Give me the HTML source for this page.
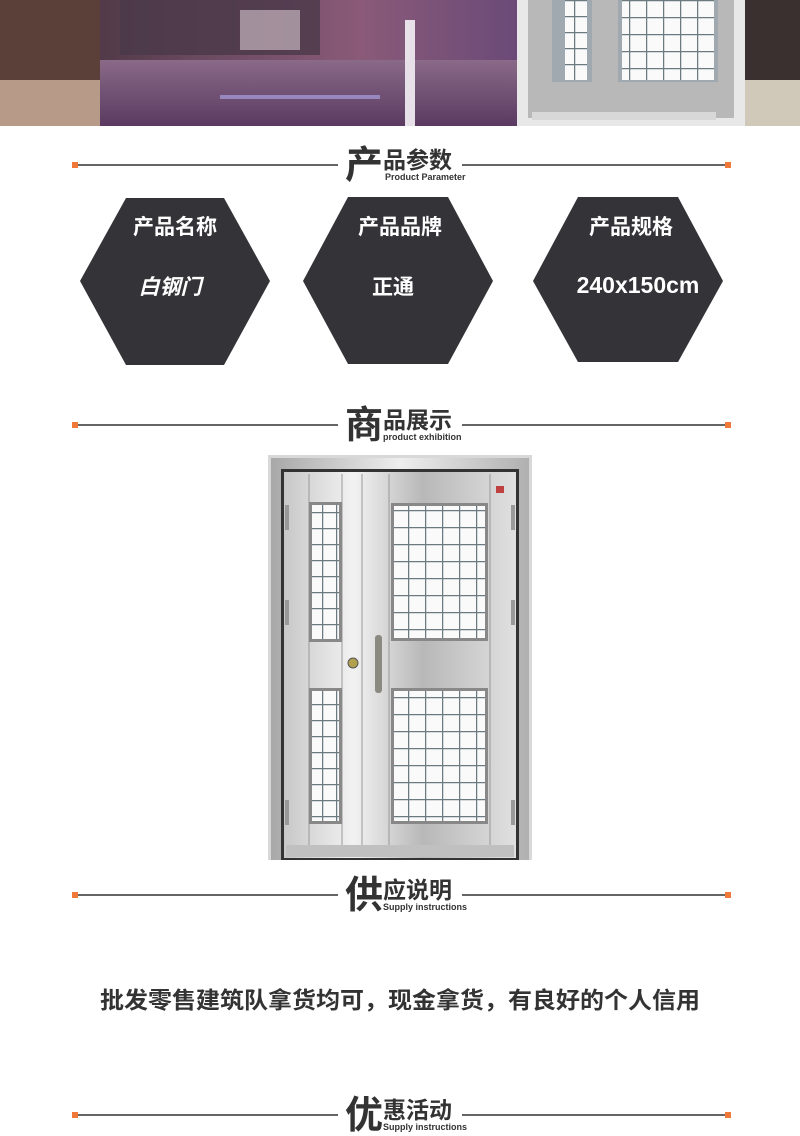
<!DOCTYPE html>
<html><head><meta charset="utf-8"><style>
body{margin:0;width:800px;height:1136px;background:#fff;overflow:hidden;font-family:"Liberation Sans","Noto Sans CJK SC",sans-serif}
svg{display:block}
</style></head><body>
<svg width="800" height="1136" viewBox="0 0 800 1136" xmlns="http://www.w3.org/2000/svg" font-family="Liberation Sans, Noto Sans CJK SC, sans-serif">
<defs>
<linearGradient id="sky" x1="0" y1="0" x2="1" y2="0">
<stop offset="0" stop-color="#3a2a30"/><stop offset="0.25" stop-color="#6a4a60"/><stop offset="0.45" stop-color="#8a5a78"/><stop offset="0.65" stop-color="#6a4a78"/><stop offset="1" stop-color="#3a3040"/>
</linearGradient>
<linearGradient id="water" x1="0" y1="0" x2="0" y2="1">
<stop offset="0" stop-color="#8a6a88"/><stop offset="1" stop-color="#5a3a60"/>
</linearGradient>
<linearGradient id="steel" x1="0" y1="0" x2="1" y2="0">
<stop offset="0" stop-color="#c8c8c8"/><stop offset="0.3" stop-color="#f2f2f2"/><stop offset="0.6" stop-color="#b8b8b8"/><stop offset="1" stop-color="#e0e0e0"/>
</linearGradient>
<linearGradient id="steel2" x1="0" y1="0" x2="1" y2="0">
<stop offset="0" stop-color="#a8a8a8"/><stop offset="0.5" stop-color="#eeeeee"/><stop offset="1" stop-color="#b0b0b0"/>
</linearGradient>
<pattern id="grid" width="17" height="17" patternUnits="userSpaceOnUse">
<rect width="17" height="17" fill="#fafafa"/><path d="M0 0H17M0 0V17" stroke="#6a7a80" stroke-width="2.5" fill="none"/>
</pattern>
<pattern id="gridn" width="14" height="16" patternUnits="userSpaceOnUse">
<rect width="14" height="16" fill="#fafafa"/><path d="M0 0H14M0 0V16" stroke="#6a7a80" stroke-width="2.5" fill="none"/>
</pattern>
</defs>

<!-- banner -->
<rect x="0" y="0" width="800" height="126" fill="url(#sky)"/>
<rect x="100" y="60" width="430" height="66" fill="url(#water)"/>
<rect x="0" y="0" width="100" height="126" fill="#5a4038"/>
<rect x="0" y="80" width="100" height="46" fill="#b89a88"/>
<rect x="120" y="0" width="200" height="55" fill="#4a3848" opacity="0.8"/>
<rect x="240" y="10" width="60" height="40" fill="#d8c8d0" opacity="0.6"/>
<rect x="405" y="20" width="10" height="106" fill="#e8e0e8"/>
<rect x="220" y="95" width="160" height="4" fill="#a8a0e0" opacity="0.7"/>
<rect x="745" y="0" width="55" height="126" fill="#3a3030"/>
<rect x="745" y="80" width="55" height="46" fill="#d0c8b8"/>
<rect x="517" y="0" width="228" height="126" fill="#e8e8e8"/>
<rect x="528" y="0" width="206" height="118" fill="#b8b8b8"/>
<rect x="552" y="0" width="40" height="82" fill="#a0a8b0"/>
<rect x="565" y="0" width="22" height="80" fill="url(#gridn)"/>
<rect x="618" y="0" width="100" height="82" fill="#a0a8b0"/>
<rect x="622" y="0" width="92" height="80" fill="url(#grid)"/>
<rect x="532" y="112" width="184" height="8" fill="#d8d8d8"/>

<!-- headings -->
<g id="h">
<rect x="72" y="162" width="6" height="6" fill="#f07838"/>
<rect x="725" y="162" width="6" height="6" fill="#f07838"/>
<line x1="78" y1="165" x2="338" y2="165" stroke="#333" stroke-width="1.5"/>
<line x1="462" y1="165" x2="725" y2="165" stroke="#333" stroke-width="1.5"/>
</g>
<text x="345" y="178" font-size="38" font-weight="bold" fill="#333">产</text>
<text x="383" y="168" font-size="23" font-weight="bold" fill="#333">品参数</text>
<text x="385" y="180" font-size="9" font-weight="bold" fill="#333">Product Parameter</text>

<use href="#h" y="260"/>
<text x="345" y="438" font-size="38" font-weight="bold" fill="#333">商</text>
<text x="383" y="428" font-size="23" font-weight="bold" fill="#333">品展示</text>
<text x="383" y="440" font-size="9" font-weight="bold" fill="#333">product exhibition</text>

<use href="#h" y="730"/>
<text x="345" y="908" font-size="38" font-weight="bold" fill="#333">供</text>
<text x="383" y="898" font-size="23" font-weight="bold" fill="#333">应说明</text>
<text x="383" y="910" font-size="9" font-weight="bold" fill="#333">Supply instructions</text>

<use href="#h" y="950"/>
<text x="345" y="1128" font-size="38" font-weight="bold" fill="#333">优</text>
<text x="383" y="1118" font-size="23" font-weight="bold" fill="#333">惠活动</text>
<text x="383" y="1130" font-size="9" font-weight="bold" fill="#333">Supply instructions</text>

<!-- hexagons -->
<g fill="#333338">
<polygon points="80,281 126,198 224,198 270,281 224,365 126,365"/>
<polygon points="303,281 348,197 448,197 493,281 448,364 348,364"/>
<polygon points="533,281 578,197 678,197 723,281 678,362 578,362"/>
</g>
<g fill="#fff" font-weight="bold" text-anchor="middle">
<text x="175" y="234" font-size="21">产品名称</text>
<text x="170" y="294" font-size="21" font-style="italic">白钢门</text>
<text x="400" y="234" font-size="21">产品品牌</text>
<text x="393" y="294" font-size="21">正通</text>
<text x="631" y="234" font-size="21">产品规格</text>
<text x="638" y="293" font-size="23">240x150cm</text>
</g>

<!-- door -->
<rect x="268" y="455" width="264" height="405" fill="#d8d8d8"/>
<rect x="271" y="458" width="258" height="402" fill="url(#steel2)"/>
<rect x="281" y="469" width="238" height="391" fill="#333"/>
<rect x="284" y="472" width="232" height="386" fill="url(#steel)"/>
<line x1="309" y1="474" x2="309" y2="850" stroke="#999"/>
<line x1="342" y1="474" x2="342" y2="850" stroke="#999"/>
<line x1="362" y1="474" x2="362" y2="850" stroke="#999"/>
<line x1="389" y1="474" x2="389" y2="850" stroke="#999"/>
<line x1="490" y1="474" x2="490" y2="850" stroke="#999"/>
<rect x="309" y="502" width="33" height="140" fill="#888"/>
<rect x="312" y="505" width="27" height="134" fill="url(#gridn)"/>
<rect x="309" y="688" width="33" height="136" fill="#888"/>
<rect x="312" y="691" width="27" height="130" fill="url(#gridn)"/>
<rect x="391" y="503" width="97" height="138" fill="#888"/>
<rect x="394" y="506" width="91" height="132" fill="url(#grid)"/>
<rect x="391" y="688" width="97" height="136" fill="#888"/>
<rect x="394" y="691" width="91" height="130" fill="url(#grid)"/>
<rect x="286" y="845" width="228" height="12" fill="#c0c0c0"/>
<rect x="375" y="635" width="7" height="58" rx="3" fill="#8a8a80"/>
<circle cx="353" cy="663" r="5" fill="#b0a050" stroke="#555"/>
<rect x="496" y="486" width="8" height="7" fill="#c04040"/>
<rect x="285" y="505" width="4" height="25" fill="#999"/>
<rect x="285" y="600" width="4" height="25" fill="#999"/>
<rect x="285" y="800" width="4" height="25" fill="#999"/>
<rect x="511" y="505" width="4" height="25" fill="#999"/>
<rect x="511" y="600" width="4" height="25" fill="#999"/>
<rect x="511" y="800" width="4" height="25" fill="#999"/>

<text x="100" y="1008" font-size="23" font-weight="bold" fill="#333" textLength="600" lengthAdjust="spacingAndGlyphs">批发零售建筑队拿货均可，现金拿货，有良好的个人信用</text>
</svg>
</body></html>
